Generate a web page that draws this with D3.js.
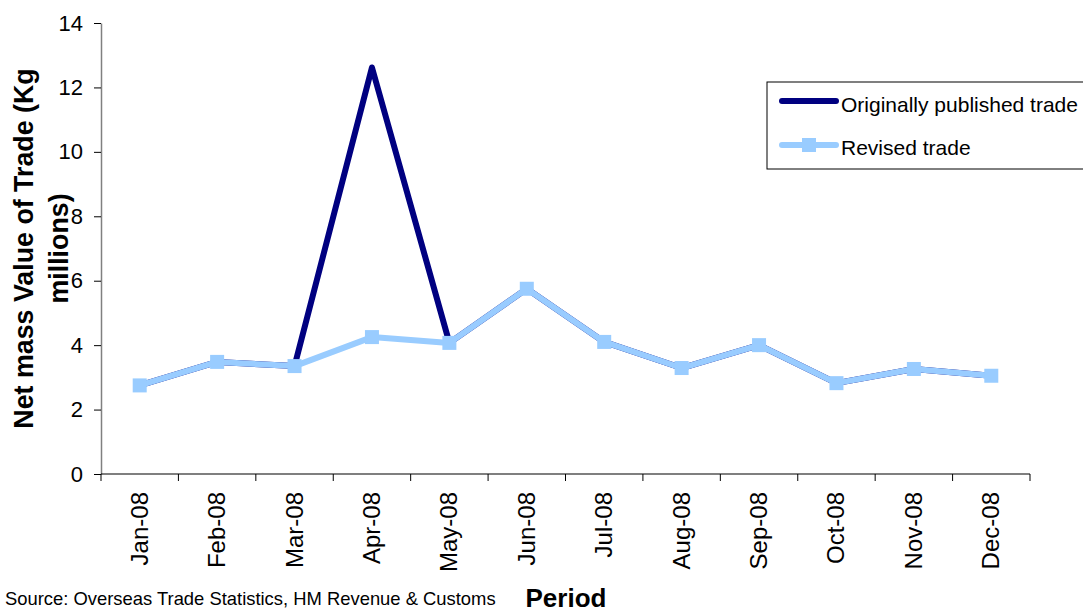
<html>
<head>
  <script src="https://d3js.org/d3.v7.min.js"></script>
  <style>
  body{ margin:0; background:#fff; }
  svg{ display:block; font-family:"Liberation Sans", Arial, sans-serif; }
  </style>
</head>
<body>
  <svg id="chart"></svg>
  <script type="text/javascript">
    var months=["Jan-08","Feb-08","Mar-08","Apr-08","May-08","Jun-08","Jul-08","Aug-08","Sep-08","Oct-08","Nov-08","Dec-08"];
    var original=[2.75,3.48,3.35,12.62,4.07,5.75,4.1,3.29,4.0,2.82,3.26,3.05];
    var revised=[2.75,3.48,3.35,4.25,4.07,5.75,4.1,3.29,4.0,2.82,3.26,3.05];
    var yTicks=[0,2,4,6,8,10,12,14];

    var width=1083, height=610;
    var plotL=101, plotR=1030, plotT=23, plotB=474;

    var svg=d3.select("#chart").attr("width",width).attr("height",height);

    var x=d3.scaleBand().domain(months).range([plotL,plotR]);
    var y=d3.scaleLinear().domain([0,14]).range([plotB,plotT]);

    // y axis
    var yAxis=svg.append("g")
       .attr("transform","translate("+plotL+",0)")
       .call(d3.axisLeft(y).tickValues(yTicks).tickSize(7).tickSizeOuter(0).tickPadding(11));
    yAxis.select(".domain").attr("stroke","#808080").attr("stroke-width",1.5);
    yAxis.selectAll(".tick line").attr("stroke","#000");
    yAxis.selectAll("text").style("font-size","22px").attr("fill","#000");

    // x axis, ticks between categories
    var xAxis=svg.append("g").attr("transform","translate(0,"+plotB+")");
    xAxis.append("line").attr("x1",plotL).attr("x2",plotR).attr("stroke","#000").attr("stroke-width",1.2);
    var bounds=months.map(function(m){return x(m)}).concat([plotR]);
    xAxis.selectAll("line.tk").data(bounds).enter().append("line")
       .attr("class","tk")
       .attr("x1",function(d){return d}).attr("x2",function(d){return d})
       .attr("y1",0).attr("y2",7).attr("stroke","#000");
    xAxis.selectAll("text").data(months).enter().append("text")
       .attr("transform",function(d){return "translate("+(x(d)+x.bandwidth()/2+8)+",18) rotate(-90)"})
       .attr("text-anchor","end")
       .style("font-size","24px")
       .text(function(d){return d});

    var cx=function(d,i){return x(months[i])+x.bandwidth()/2};
    var line=d3.line().x(cx).y(function(d){return y(d)});

    // original series (beneath)
    svg.append("path").datum(original)
       .attr("d",line).attr("fill","none")
       .attr("stroke","#000080").attr("stroke-width",6)
       .attr("stroke-linejoin","round");

    // revised series
    svg.append("path").datum(revised)
       .attr("d",line).attr("fill","none")
       .attr("stroke","#99CCFF").attr("stroke-width",6)
       .attr("stroke-linejoin","round");
    svg.selectAll("rect.mk").data(revised).enter().append("rect")
       .attr("class","mk")
       .attr("x",function(d,i){return cx(d,i)-7})
       .attr("y",function(d){return y(d)-7})
       .attr("width",14).attr("height",14)
       .attr("fill","#99CCFF");

    // legend
    var lg=svg.append("g");
    lg.append("rect").attr("x",767).attr("y",82).attr("width",330).attr("height",87)
      .attr("fill","#fff").attr("stroke","#000").attr("stroke-width",1);
    lg.append("line").attr("x1",782).attr("x2",836).attr("y1",101).attr("y2",101)
      .attr("stroke","#000080").attr("stroke-width",6).attr("stroke-linecap","round");
    lg.append("text").attr("x",841).attr("y",112).style("font-size","21px").text("Originally published trade");
    lg.append("line").attr("x1",782).attr("x2",836).attr("y1",145).attr("y2",145)
      .attr("stroke","#99CCFF").attr("stroke-width",6).attr("stroke-linecap","round");
    lg.append("rect").attr("x",802).attr("y",138).attr("width",14).attr("height",14).attr("fill","#99CCFF");
    lg.append("text").attr("x",841).attr("y",155).style("font-size","21px").text("Revised trade");

    // titles
    var yt=svg.append("text")
       .attr("transform","translate(33,"+((plotT+plotB)/2)+") rotate(-90)")
       .attr("text-anchor","middle").style("font-size","26.8px").style("font-weight","bold");
    yt.append("tspan").attr("x",0).attr("dy",0).text("Net mass Value of Trade (Kg");
    yt.append("tspan").attr("x",0).attr("dy",35).text("millions)");

    svg.append("text").attr("x",566).attr("y",607).attr("text-anchor","middle")
       .style("font-size","26px").style("font-weight","bold").text("Period");
    svg.append("text").attr("x",5).attr("y",605)
       .style("font-size","18.4px").text("Source: Overseas Trade Statistics, HM Revenue & Customs");
  </script>
</body>
</html>
